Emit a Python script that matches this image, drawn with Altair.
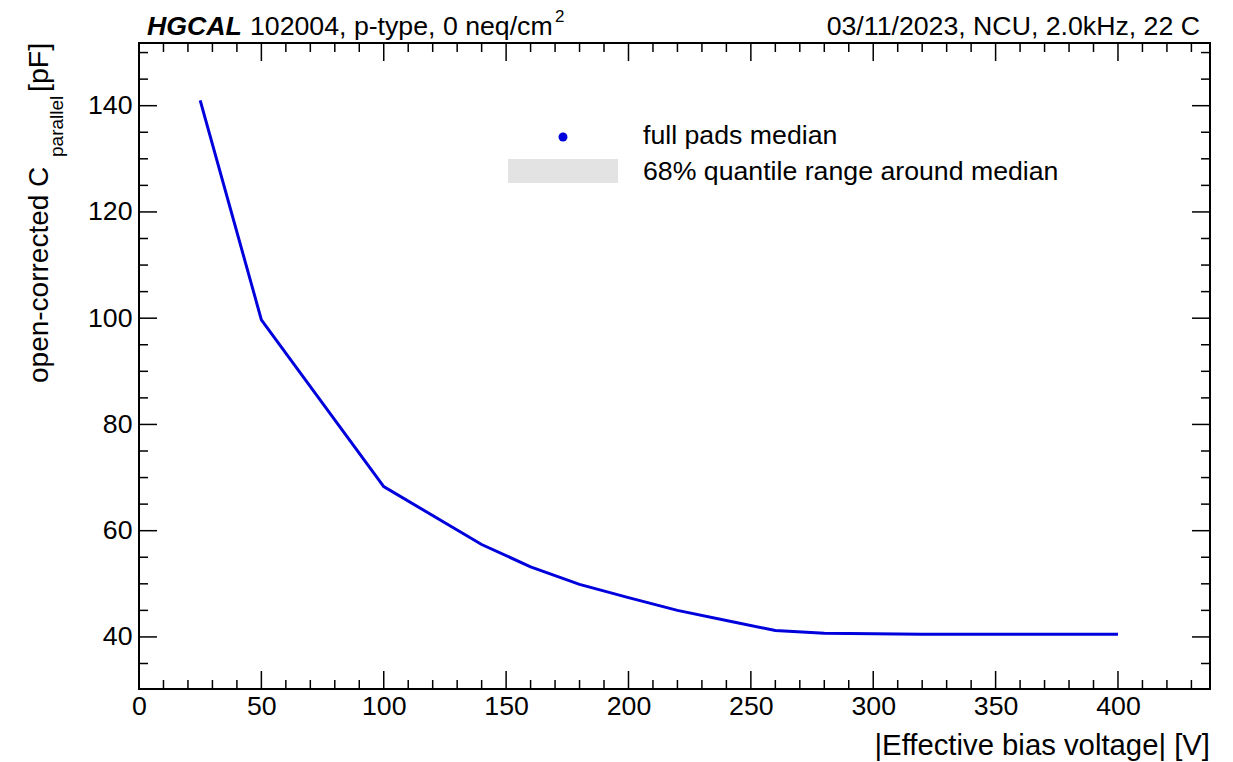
import altair as alt
import pandas as pd

# ---- data ----
voltage = [25, 50, 100, 140, 160, 180, 200, 220, 240, 260, 280, 300, 320, 340, 360, 380, 400]
cap_median = [141.0, 99.7, 68.3, 57.4, 53.2, 49.9, 47.4, 45.0, 43.1, 41.2, 40.7, 40.6, 40.5, 40.5, 40.5, 40.5, 40.5]

x_major = [0, 50, 100, 150, 200, 250, 300, 350, 400]
x_minor = [v for v in range(10, 440, 10) if v % 50 != 0]
y_major = [40, 60, 80, 100, 120, 140]
y_minor = [v for v in range(35, 155, 5) if v % 20 != 0]

X_DOMAIN = [0, 437.6]
Y_DOMAIN = [30.2, 151.8]

W, H = 1071, 646
FONT = "Liberation Sans"
FS = 26.7
BLUE = "#0000dd"

line_df = pd.DataFrame({"v": voltage, "c": cap_median})
one = pd.DataFrame({"a": [0]})

xs = alt.Scale(domain=X_DOMAIN, nice=False, zero=False)
ys = alt.Scale(domain=Y_DOMAIN, nice=False, zero=False)

x_axis = alt.Axis(
    values=x_major, format="d", labelFontSize=FS, labelFont=FONT, ticks=False,
    domain=False, grid=False, labelPadding=4, title=None, labelColor="black",
    labelFlush=False, labelOverlap=False)
y_axis = alt.Axis(
    values=y_major, format="d", labelFontSize=FS, labelFont=FONT, ticks=False,
    domain=False, grid=False, labelPadding=7, title=None, labelColor="black",
    labelOverlap=False)

line = alt.Chart(line_df).mark_line(color=BLUE, strokeWidth=3, clip=True).encode(
    x=alt.X("v:Q", scale=xs, axis=x_axis),
    y=alt.Y("c:Q", scale=ys, axis=y_axis),
)

def xticks(vals, length):
    df = pd.DataFrame({"v": vals})
    b = alt.Chart(df).mark_rule(color="black", strokeWidth=1.5).encode(
        x=alt.X("v:Q", scale=xs, axis=x_axis), y=alt.value(H), y2=alt.value(H - length))
    t = alt.Chart(df).mark_rule(color="black", strokeWidth=1.5).encode(
        x=alt.X("v:Q", scale=xs, axis=x_axis), y=alt.value(0), y2=alt.value(length))
    return [b, t]

def yticks(vals, length):
    df = pd.DataFrame({"w": vals})
    l = alt.Chart(df).mark_rule(color="black", strokeWidth=1.5).encode(
        y=alt.Y("w:Q", scale=ys, axis=y_axis), x=alt.value(0), x2=alt.value(length))
    r = alt.Chart(df).mark_rule(color="black", strokeWidth=1.5).encode(
        y=alt.Y("w:Q", scale=ys, axis=y_axis), x=alt.value(W), x2=alt.value(W - length))
    return [l, r]

def txt(s, x, y, size=FS, align="left", baseline="alphabetic", angle=0, weight="normal", style="normal"):
    return alt.Chart(one).mark_text(
        text=s, font=FONT, fontSize=size, align=align, baseline=baseline, angle=angle,
        fontWeight=weight, fontStyle=style, color="black").encode(
        x=alt.value(x), y=alt.value(y))

layers = [line]
layers += xticks(x_major, 18) + xticks(x_minor, 9)
layers += yticks(y_major, 18) + yticks(y_minor, 9)

# legend
layers.append(alt.Chart(one).mark_rect(color="#e3e3e3").encode(
    x=alt.value(369), x2=alt.value(479), y=alt.value(116), y2=alt.value(140)))
layers.append(alt.Chart(one).mark_point(filled=True, color=BLUE, size=80, opacity=1).encode(
    x=alt.value(424), y=alt.value(94)))
layers.append(txt("full pads median", 504, 101))
layers.append(txt("68% quantile range around median", 504, 137))

# header
layers.append(txt("HGCAL", 8, -8, weight="bold", style="italic"))
layers.append(txt("102004, p-type, 0 neq/cm", 111, -8))
layers.append(txt("2", 416, -21, size=17))
layers.append(txt("03/11/2023, NCU, 2.0kHz, 22 C", 1061, -8, align="right"))

# axis titles
layers.append(txt("|Effective bias voltage| [V]", W, 712, size=29.3, align="right"))
layers.append(txt("open-corrected C", -91, 340, size=28, angle=270))
layers.append(txt("parallel", -76, 114, size=19, angle=270))
layers.append(txt("[pF]", -91, 49, size=28.5, angle=270))

chart = alt.layer(*layers).properties(
    width=W, height=H,
    autosize=alt.AutoSizeParams(type="none"),
    padding={"left": 139, "top": 43, "right": 23, "bottom": 73},
    background="white",
).configure_view(stroke="black", strokeWidth=2)

chart.save("out.html", embed_options={"renderer": "svg", "actions": False})
